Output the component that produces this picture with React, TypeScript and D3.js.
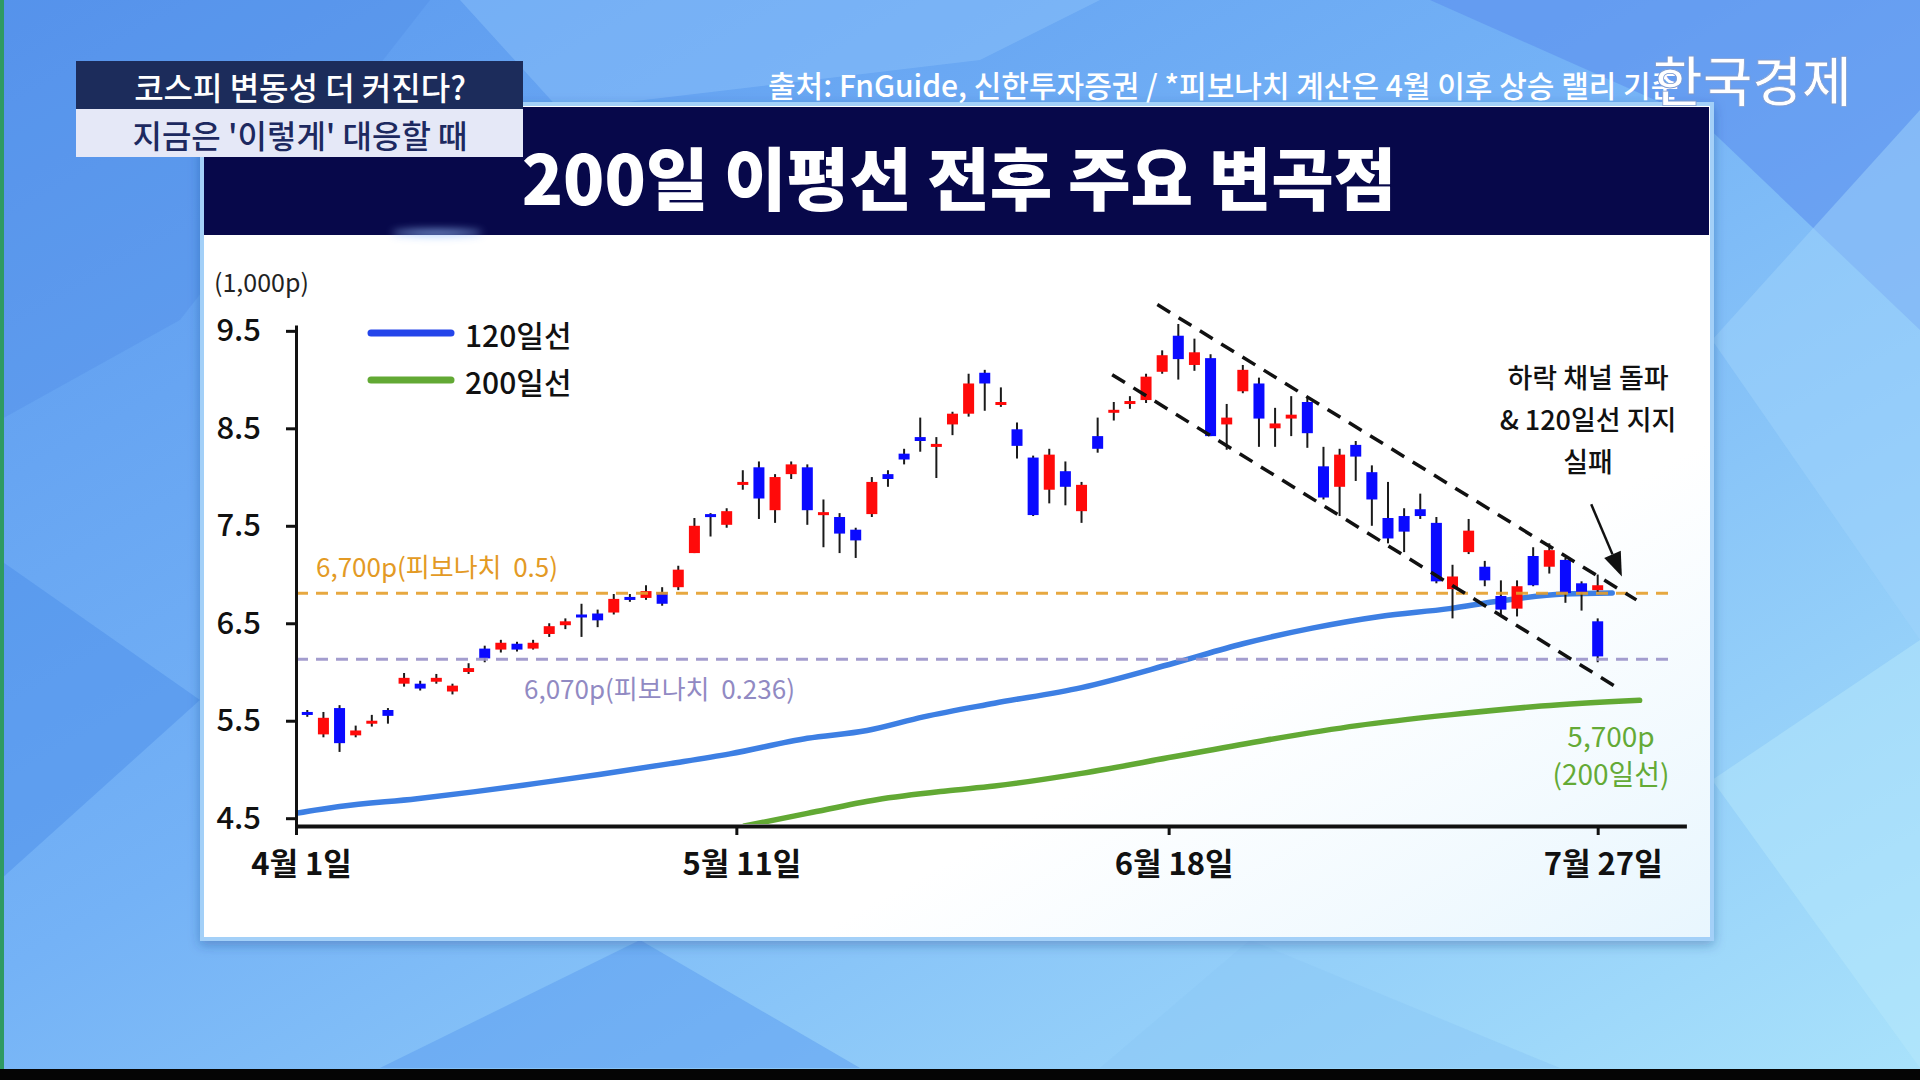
import React, { useEffect, useRef } from "react";
import * as d3 from "d3";

const FONT = "'Noto Sans CJK KR', 'Noto Sans', sans-serif";

// [trading day index, open, high, low, close]  (1,000p)
const candles: [number, number, number, number, number][] = [
    [0, 5.59, 5.61, 5.54, 5.57], [1, 5.36, 5.59, 5.33, 5.53], [2, 5.63, 5.66, 5.18, 5.27],
    [3, 5.35, 5.45, 5.33, 5.4], [4, 5.47, 5.56, 5.44, 5.5], [5, 5.61, 5.63, 5.47, 5.55],
    [6, 5.88, 5.99, 5.85, 5.94], [7, 5.88, 5.91, 5.81, 5.83], [8, 5.9, 5.98, 5.88, 5.94],
    [9, 5.8, 5.88, 5.77, 5.86], [10, 6.0, 6.09, 5.98, 6.04], [11, 6.24, 6.27, 6.1, 6.14],
    [12, 6.23, 6.33, 6.2, 6.3], [13, 6.29, 6.31, 6.21, 6.23], [14, 6.24, 6.33, 6.23, 6.3],
    [15, 6.39, 6.5, 6.36, 6.47], [16, 6.48, 6.55, 6.44, 6.52], [17, 6.59, 6.7, 6.36, 6.56],
    [18, 6.6, 6.64, 6.46, 6.53], [19, 6.61, 6.8, 6.59, 6.75], [20, 6.77, 6.8, 6.72, 6.74],
    [21, 6.76, 6.89, 6.74, 6.83], [22, 6.82, 6.87, 6.68, 6.7], [23, 6.87, 7.09, 6.84, 7.05],
    [24, 7.22, 7.58, 7.22, 7.5], [25, 7.62, 7.63, 7.39, 7.59], [26, 7.51, 7.68, 7.48, 7.65],
    [27, 7.93, 8.07, 7.87, 7.95], [28, 8.1, 8.16, 7.57, 7.78], [29, 7.66, 8.03, 7.53, 8.0],
    [30, 8.03, 8.16, 7.98, 8.13], [31, 8.1, 8.13, 7.51, 7.66], [32, 7.61, 7.77, 7.28, 7.64],
    [33, 7.59, 7.63, 7.22, 7.42], [34, 7.46, 7.48, 7.17, 7.35], [35, 7.62, 8.0, 7.59, 7.95],
    [36, 8.03, 8.07, 7.9, 7.98], [37, 8.24, 8.29, 8.13, 8.18], [38, 8.41, 8.61, 8.26, 8.37],
    [39, 8.32, 8.41, 7.99, 8.34], [40, 8.54, 8.67, 8.43, 8.65], [41, 8.65, 9.06, 8.62, 8.96],
    [42, 9.07, 9.1, 8.68, 8.96], [43, 8.74, 8.92, 8.72, 8.77], [44, 8.49, 8.56, 8.19, 8.32],
    [45, 8.2, 8.22, 7.6, 7.61], [46, 7.87, 8.29, 7.73, 8.23], [47, 8.06, 8.16, 7.71, 7.9],
    [48, 7.65, 7.95, 7.53, 7.92], [49, 8.42, 8.61, 8.25, 8.29], [50, 8.67, 8.77, 8.58, 8.69],
    [51, 8.75, 8.83, 8.7, 8.78], [52, 8.79, 9.06, 8.76, 9.03], [53, 9.08, 9.3, 9.06, 9.25],
    [54, 9.45, 9.57, 9.0, 9.21], [55, 9.15, 9.42, 9.09, 9.28], [56, 9.22, 9.26, 8.42, 8.42],
    [57, 8.54, 8.75, 8.28, 8.61], [58, 8.88, 9.15, 8.86, 9.1], [59, 8.96, 9.02, 8.31, 8.6],
    [60, 8.5, 8.71, 8.31, 8.55], [61, 8.6, 8.83, 8.42, 8.64], [62, 8.77, 8.82, 8.3, 8.45],
    [63, 8.11, 8.31, 7.77, 7.79], [64, 7.9, 8.29, 7.6, 8.23], [65, 8.33, 8.37, 7.96, 8.21],
    [66, 8.05, 8.12, 7.5, 7.77], [67, 7.58, 7.95, 7.32, 7.37], [68, 7.6, 7.68, 7.23, 7.44],
    [69, 7.67, 7.83, 7.57, 7.6], [70, 7.53, 7.59, 6.91, 6.93], [71, 6.85, 7.1, 6.55, 6.98],
    [72, 7.23, 7.57, 7.21, 7.45], [73, 7.08, 7.14, 6.88, 6.94], [74, 6.78, 6.94, 6.59, 6.64],
    [75, 6.65, 6.94, 6.57, 6.88], [76, 7.19, 7.28, 6.88, 6.89], [77, 7.08, 7.32, 7.01, 7.25],
    [78, 7.15, 7.17, 6.71, 6.81], [79, 6.91, 6.93, 6.63, 6.82], [80, 6.84, 7.0, 6.82, 6.89],
    [80, 6.52, 6.55, 6.1, 6.16],
];

// moving averages: [day, value]
const ma120: [number, number][] = [
    [-0.7, 4.55], [2, 4.62], [6.8, 4.7], [10.3, 4.77], [14.3, 4.86], [18.2, 4.95],
    [22.5, 5.06], [26.2, 5.16], [31, 5.32], [34.7, 5.4], [38.2, 5.54], [42.6, 5.68],
    [48, 5.84], [53.7, 6.09], [58, 6.29], [62.3, 6.45], [66.5, 6.57], [70.8, 6.65],
    [74, 6.73], [77.9, 6.8], [80.9, 6.81],
];
const ma200: [number, number][] = [
    [27.1, 4.42], [31, 4.55], [35.3, 4.69], [39.6, 4.78], [42.6, 4.83], [48, 4.96],
    [53.7, 5.13], [59.4, 5.3], [65.1, 5.45], [70.8, 5.56], [76.5, 5.65], [82.6, 5.71],
];

const yTicks = [4.5, 5.5, 6.5, 7.5, 8.5, 9.5];
const xTickDays = [-0.7, 26.6, 53.4, 80];
const xTickLabels = ["4월 1일", "5월 11일", "6월 18일", "7월 27일"];

const fibValues = [6.807, 6.13];
const fibLabels = ["6,700p(피보나치  0.5)", "6,070p(피보나치  0.236)"];

// descending channel and arrow, in [day, value]
const channelUpper: [number, number][] = [[52.7, 9.77], [82.4, 6.74]];
const channelLower: [number, number][] = [[49.9, 9.05], [81.3, 5.83]];
const arrowPts: [number, number][] = [[79.6, 7.72], [81.5, 6.98]];

const noteLines = ["하락 채널 돌파", "& 120일선 지지", "실패"];

const x = d3.scaleLinear().domain([-0.7, 85.5]).range([296, 1686.4]);
const y = d3.scaleLinear().domain([4.42, 9.56]).range([826, 325]);

export default function App() {
    const yAxisRef = useRef<SVGGElement>(null);
    const xAxisRef = useRef<SVGGElement>(null);

    useEffect(() => {
        document.body.style.margin = "0";
        document.body.style.overflow = "hidden";
        if (yAxisRef.current) {
            const g = d3.select(yAxisRef.current);
            g.call(d3.axisLeft(y).tickValues(yTicks).tickSize(10).tickSizeOuter(0).tickPadding(25).tickFormat(d3.format(".1f")));
            g.attr("font-family", FONT).attr("font-size", 31);
            g.select(".domain").attr("stroke", "#111").attr("stroke-width", 3);
            g.selectAll(".tick line").attr("stroke", "#111").attr("stroke-width", 3);
            g.selectAll(".tick text").attr("fill", "#111").attr("font-weight", 500);
        }
        if (xAxisRef.current) {
            const g = d3.select(xAxisRef.current);
            g.call(d3.axisBottom(x).tickValues(xTickDays).tickSize(9).tickSizeOuter(0).tickPadding(18)
                .tickFormat((_d, i) => xTickLabels[i]));
            g.attr("font-family", FONT).attr("font-size", 31);
            g.select(".domain").attr("stroke", "#111").attr("stroke-width", 4);
            g.selectAll(".tick line").attr("stroke", "#111").attr("stroke-width", 3);
            g.selectAll(".tick text").attr("fill", "#111").attr("font-weight", 700).attr("dx", 5);
        }
    }, []);

    const line = d3.line<[number, number]>().x(d => x(d[0])).y(d => y(d[1])).curve(d3.curveMonotoneX);

    const [a0, a1] = arrowPts;
    const ax0 = x(a0[0]), ay0 = y(a0[1]), ax1 = x(a1[0]), ay1 = y(a1[1]);
    const ang = Math.atan2(ay1 - ay0, ax1 - ax0);
    const headLen = 24, headW = 9;
    const bx = ax1 - headLen * Math.cos(ang), by = ay1 - headLen * Math.sin(ang);
    const head = [
        [ax1, ay1],
        [bx + headW * Math.sin(ang), by - headW * Math.cos(ang)],
        [bx - headW * Math.sin(ang), by + headW * Math.cos(ang)],
    ].map(p => p.join(",")).join(" ");

    const fibColors = ["#e59f2c", "#9a93c9"];
    const fibTextColors = ["#e39a24", "#918ac3"];

    return (
        <div style={{ position: "fixed", left: 0, top: 0, width: 1920, height: 1080 }}>
            <svg width={1920} height={1080} style={{ display: "block" }} fontFamily={FONT}>
                <defs>
                    <linearGradient id="bg" x1="0" y1="0" x2="1" y2="1">
                        <stop offset="0" stopColor="#5a98ee" />
                        <stop offset="0.45" stopColor="#74b2f6" />
                        <stop offset="1" stopColor="#a9e2fb" />
                    </linearGradient>
                    <linearGradient id="panel" x1="0" y1="0" x2="1" y2="1">
                        <stop offset="0" stopColor="#ffffff" />
                        <stop offset="0.7" stopColor="#ffffff" />
                        <stop offset="1" stopColor="#e8f6fe" />
                    </linearGradient>
                    <filter id="shadow" x="-5%" y="-5%" width="110%" height="110%">
                        <feDropShadow dx="0" dy="4" stdDeviation="6" floodColor="#1a3c80" floodOpacity="0.35" />
                    </filter>
                    <filter id="glow" x="-50%" y="-200%" width="200%" height="500%">
                        <feGaussianBlur stdDeviation="4" />
                    </filter>
                    <clipPath id="plot">
                        <rect x={296} y={300} width={1420} height={524} />
                    </clipPath>
                </defs>

                {/* background */}
                <rect width={1920} height={1080} fill="url(#bg)" />
                <polygon points="0,0 430,0 180,320 0,420" fill="#4b88e4" opacity={0.3} />
                <polygon points="460,0 1100,0 980,60 560,110" fill="#8fc4fb" opacity={0.45} />
                <polygon points="1430,0 1920,0 1920,330 1700,120" fill="#5b8fee" opacity={0.6} />
                <polygon points="1712,340 1920,110 1920,640" fill="#9fd3fb" opacity={0.5} />
                <polygon points="0,560 200,700 0,880" fill="#4a8be8" opacity={0.45} />
                <polygon points="380,1068 640,940 860,1068" fill="#5a9cef" opacity={0.5} />
                <polygon points="1250,940 1560,1068 1100,1068" fill="#8cc9f6" opacity={0.55} />
                <polygon points="1712,780 1920,640 1920,1068" fill="#b5e8fc" opacity={0.5} />
                <rect x={0} y={0} width={4} height={1069} fill="#2f9a63" />
                <rect x={0} y={1069} width={1920} height={11} fill="#050505" />

                {/* panel */}
                <rect x={202} y={104} width={1510} height={835} fill="url(#panel)" stroke="#a3d0f8" strokeWidth={4} filter="url(#shadow)" />
                <rect x={204} y={107} width={1505} height={128} fill="#07084a" />
                <ellipse cx={437} cy={233} rx={45} ry={3} fill="#9cc4ff" opacity={0.9} filter="url(#glow)" />
                <text x={959} y={175} textAnchor="middle" dominantBaseline="central" fontSize={68} fontWeight={900} fill="#ffffff">
                    200일 이평선 전후 주요 변곡점
                </text>

                {/* header overlays */}
                <rect x={76} y={61} width={447} height={48} fill="#1c2c5b" />
                <text x={300} y={86} textAnchor="middle" dominantBaseline="central" fontSize={32} fontWeight={500} fill="#ffffff">
                    코스피 변동성 더 커진다?
                </text>
                <rect x={76} y={109} width={447} height={48} fill="#e5e8f7" />
                <text x={300} y={134} textAnchor="middle" dominantBaseline="central" fontSize={32} fontWeight={500} fill="#1d2960">
                    지금은 '이렇게' 대응할 때
                </text>
                <text x={768} y={84} dominantBaseline="central" fontSize={30} fontWeight={500} fill="#ffffff">
                    출처: FnGuide, 신한투자증권 / *피보나치 계산은 4월 이후 상승 랠리 기준
                </text>
                <text x={1653} y={78} dominantBaseline="central" fontSize={54} fontWeight={500} fill="#ffffff" stroke="#7d9bd0" strokeWidth={0.8}>
                    한국경제
                </text>

                {/* chart */}
                <text x={214} y={281} dominantBaseline="central" fontSize={25} fill="#222">(1,000p)</text>

                <g clipPath="url(#plot)">
                    <path d={line(ma120) ?? ""} fill="none" stroke="#3d7fe3" strokeWidth={5.5} strokeLinecap="round" />
                    <path d={line(ma200) ?? ""} fill="none" stroke="#62a934" strokeWidth={5.5} strokeLinecap="round" />
                </g>

                {candles.map(([d, o, h, l, c], i) => {
                    const up = c >= o;
                    const top = y(Math.max(o, c));
                    const ht = Math.max(3, Math.abs(y(o) - y(c)));
                    return (
                        <g key={i}>
                            <line x1={x(d)} x2={x(d)} y1={y(h)} y2={y(l)} stroke="#1a1a1a" strokeWidth={2} />
                            <rect x={x(d) - 5.5} y={top} width={11} height={ht} fill={up ? "#ff0a0a" : "#0a0aff"} />
                        </g>
                    );
                })}

                {fibValues.map((v, i) => (
                    <line key={i} x1={296} x2={1676} y1={y(v)} y2={y(v)} stroke={fibColors[i]} strokeWidth={3}
                        strokeDasharray="12 8" opacity={0.9} />
                ))}
                <text x={316} y={y(fibValues[0]) - 16} fontSize={26} fill={fibTextColors[0]} style={{ whiteSpace: "pre" }}>{fibLabels[0]}</text>
                <text x={524} y={y(fibValues[1]) + 40} fontSize={26} fill={fibTextColors[1]} style={{ whiteSpace: "pre" }}>{fibLabels[1]}</text>

                {[channelUpper, channelLower].map((seg, i) => (
                    <line key={i} x1={x(seg[0][0])} y1={y(seg[0][1])} x2={x(seg[1][0])} y2={y(seg[1][1])}
                        stroke="#111" strokeWidth={3.5} strokeDasharray="15 10" />
                ))}

                <line x1={ax0} y1={ay0} x2={bx} y2={by} stroke="#111" strokeWidth={2.5} />
                <polygon points={head} fill="#111" />

                {noteLines.map((t, i) => (
                    <text key={i} x={1588} y={376 + i * 42} textAnchor="middle" dominantBaseline="central" fontSize={27} fontWeight={500} fill="#111">{t}</text>
                ))}

                <text x={1611} y={735} textAnchor="middle" dominantBaseline="central" fontSize={28} fill="#64aa36">5,700p</text>
                <text x={1611} y={773} textAnchor="middle" dominantBaseline="central" fontSize={28} fill="#64aa36">(200일선)</text>

                {/* legend */}
                <line x1={371} x2={451} y1={333} y2={333} stroke="#2445ea" strokeWidth={7} strokeLinecap="round" />
                <text x={465} y={334} dominantBaseline="central" fontSize={30} fontWeight={500} fill="#111">120일선</text>
                <line x1={371} x2={451} y1={380} y2={380} stroke="#62a934" strokeWidth={7} strokeLinecap="round" />
                <text x={465} y={381} dominantBaseline="central" fontSize={30} fontWeight={500} fill="#111">200일선</text>

                <g ref={yAxisRef} transform="translate(296,0)" />
                <g ref={xAxisRef} transform="translate(0,826)" />
            </svg>
        </div>
    );
}
